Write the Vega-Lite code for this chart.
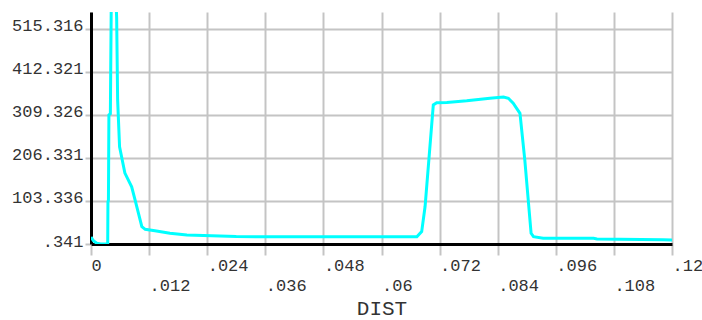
{
  "$schema": "https://vega.github.io/schema/vega-lite/v6.json",
  "autosize": "none",
  "width": 581,
  "height": 232,
  "padding": {"left": 91, "top": 12, "right": 30, "bottom": 76},
  "background": "white",
  "config": {"view": {"stroke": null}},
  "data": {"values": [
    {"x": 0, "y": 17},
    {"x": 0.0005, "y": 8},
    {"x": 0.0012, "y": 2},
    {"x": 0.002, "y": 0.341},
    {"x": 0.00345, "y": 0.341},
    {"x": 0.0035, "y": 101},
    {"x": 0.0036, "y": 105},
    {"x": 0.0037, "y": 309},
    {"x": 0.004, "y": 312},
    {"x": 0.0042, "y": 600},
    {"x": 0.0047, "y": 680},
    {"x": 0.0051, "y": 600},
    {"x": 0.0053, "y": 541},
    {"x": 0.0055, "y": 345},
    {"x": 0.0059, "y": 233},
    {"x": 0.007, "y": 170},
    {"x": 0.0084, "y": 137},
    {"x": 0.0091, "y": 106},
    {"x": 0.0105, "y": 42},
    {"x": 0.0112, "y": 35.5},
    {"x": 0.0132, "y": 32},
    {"x": 0.0163, "y": 26},
    {"x": 0.0198, "y": 22},
    {"x": 0.03, "y": 18},
    {"x": 0.045, "y": 17.6},
    {"x": 0.0673, "y": 17.5},
    {"x": 0.0683, "y": 30},
    {"x": 0.069, "y": 90},
    {"x": 0.0707, "y": 333},
    {"x": 0.0714, "y": 338},
    {"x": 0.0735, "y": 339},
    {"x": 0.0776, "y": 343},
    {"x": 0.0824, "y": 349},
    {"x": 0.0852, "y": 352},
    {"x": 0.0862, "y": 349},
    {"x": 0.0872, "y": 337},
    {"x": 0.0886, "y": 313},
    {"x": 0.0896, "y": 201},
    {"x": 0.0909, "y": 26},
    {"x": 0.0914, "y": 17.8},
    {"x": 0.0934, "y": 14},
    {"x": 0.1038, "y": 14},
    {"x": 0.1045, "y": 12.3},
    {"x": 0.1182, "y": 10.6},
    {"x": 0.12, "y": 9.9}
  ]},
  "mark": {"type": "line", "color": "#00ffff", "strokeWidth": 3, "clip": true, "interpolate": "linear"},
  "encoding": {
    "x": {
      "field": "x", "type": "quantitative",
      "scale": {"domain": [0, 0.12], "nice": false, "zero": false},
      "axis": {
        "values": [0, 0.012, 0.024, 0.036, 0.048, 0.06, 0.072, 0.084, 0.096, 0.108, 0.12],
        "labelExpr": "datum.value == 0 ? '0' : substring(format(datum.value, '.3~f'), 1)",
        "labelAlign": "left",
        "labelBaseline": "alphabetic",
        "labelPadding": {"condition": {"test": "round(datum.value * 1000 / 12) % 2 == 1", "value": 35}, "value": 15},
        "labelFont": "Liberation Mono",
        "labelFontSize": 17,
        "labelColor": "#333333",
        "labelOverlap": false,
        "labelFlush": false,
        "domainColor": "#000000",
        "domainWidth": 3,
        "tickColor": "#c4c4c4",
        "tickWidth": 2,
        "tickSize": 11,
        "grid": true,
        "gridColor": "#c4c4c4",
        "gridWidth": 2,
        "gridOpacity": 1,
        "title": "DIST",
        "titleFont": "Liberation Mono",
        "titleFontSize": 21,
        "titleFontWeight": "normal",
        "titleColor": "#333333",
        "titleBaseline": "alphabetic",
        "titleY": 70,
        "titleX": 290.5,
        "titleAlign": "center"
      }
    },
    "y": {
      "field": "y", "type": "quantitative",
      "scale": {"domain": [0.341, 555.3], "nice": false, "zero": false},
      "axis": {
        "values": [0.341, 103.336, 206.331, 309.326, 412.321, 515.316],
        "labelExpr": "datum.value < 1 ? substring(format(datum.value, '.3f'), 1) : format(datum.value, '.3f')",
        "labelBaseline": "alphabetic",
        "labelOffset": 2,
        "labelPadding": 2,
        "labelFont": "Liberation Mono",
        "labelFontSize": 17,
        "labelColor": "#333333",
        "labelOverlap": false,
        "labelFlush": false,
        "domainColor": "#000000",
        "domainWidth": 3,
        "tickColor": "#c4c4c4",
        "tickWidth": 2,
        "tickSize": 6,
        "grid": true,
        "gridColor": "#c4c4c4",
        "gridWidth": 2,
        "gridOpacity": 1,
        "title": null
      }
    }
  }
}
